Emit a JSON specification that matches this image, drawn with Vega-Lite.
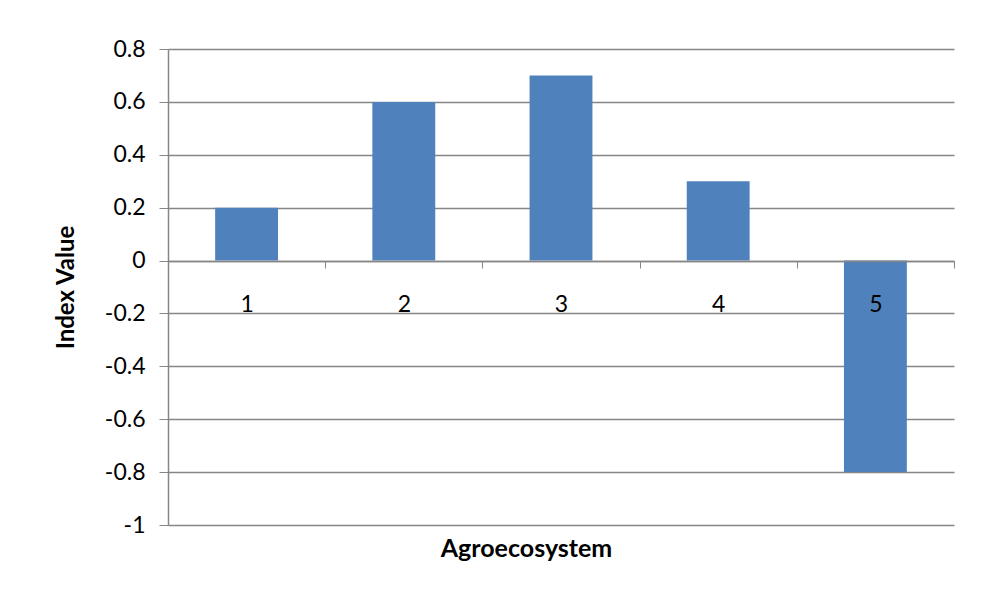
{
  "$schema": "https://vega.github.io/schema/vega-lite/v6.json",
  "width": 786,
  "height": 476,
  "autosize": {"type": "none"},
  "padding": {"left": 168, "top": 49, "right": 46, "bottom": 87},
  "background": "white",
  "config": {
    "view": {"stroke": null},
    "font": "Lato",
    "axis": {"labelFont": "Lato", "titleFont": "Lato", "labelColor": "#000000", "titleColor": "#000000"}
  },
  "data": {
    "values": [
      {"Agroecosystem": "1", "Index": 0.2},
      {"Agroecosystem": "2", "Index": 0.6},
      {"Agroecosystem": "3", "Index": 0.7},
      {"Agroecosystem": "4", "Index": 0.3},
      {"Agroecosystem": "5", "Index": -0.8}
    ]
  },
  "mark": {"type": "bar", "color": "#4F81BD", "width": {"band": 0.4}},
  "encoding": {
    "x": {
      "field": "Agroecosystem",
      "type": "nominal",
      "sort": null,
      "scale": {"paddingInner": 0, "paddingOuter": 0},
      "axis": {
        "offset": -264,
        "zindex": 1,
        "labelAngle": 0,
        "labelFontSize": 23,
        "labelPadding": 25,
        "tickBand": "extent",
        "tickSize": 7,
        "tickColor": "#868686",
        "domainColor": "#868686",
        "domainWidth": 1.5,
        "title": "Agroecosystem",
        "titleFontSize": 25,
        "titleFontWeight": "bold",
        "titleX": 358,
        "titleY": 287,
        "titleAlign": "center",
        "titleBaseline": "middle",
        "grid": false
      }
    },
    "y": {
      "field": "Index",
      "type": "quantitative",
      "scale": {"domain": [-1, 0.8], "nice": false, "zero": false},
      "axis": {
        "values": [-1, -0.8, -0.6, -0.4, -0.2, 0, 0.2, 0.4, 0.6, 0.8],
        "labelExpr": "'' + datum.value",
        "labelFontSize": 23,
        "labelPadding": 14,
        "tickSize": 9,
        "tickColor": "#868686",
        "domainColor": "#868686",
        "domainWidth": 1.5,
        "grid": true,
        "gridColor": "#868686",
        "gridWidth": 1.5,
        "title": "Index Value",
        "titleFontSize": 24,
        "titleFontWeight": "bold",
        "titleAngle": -90,
        "titleX": -102,
        "titleY": 238,
        "titleAlign": "center",
        "titleBaseline": "middle"
      }
    }
  }
}
